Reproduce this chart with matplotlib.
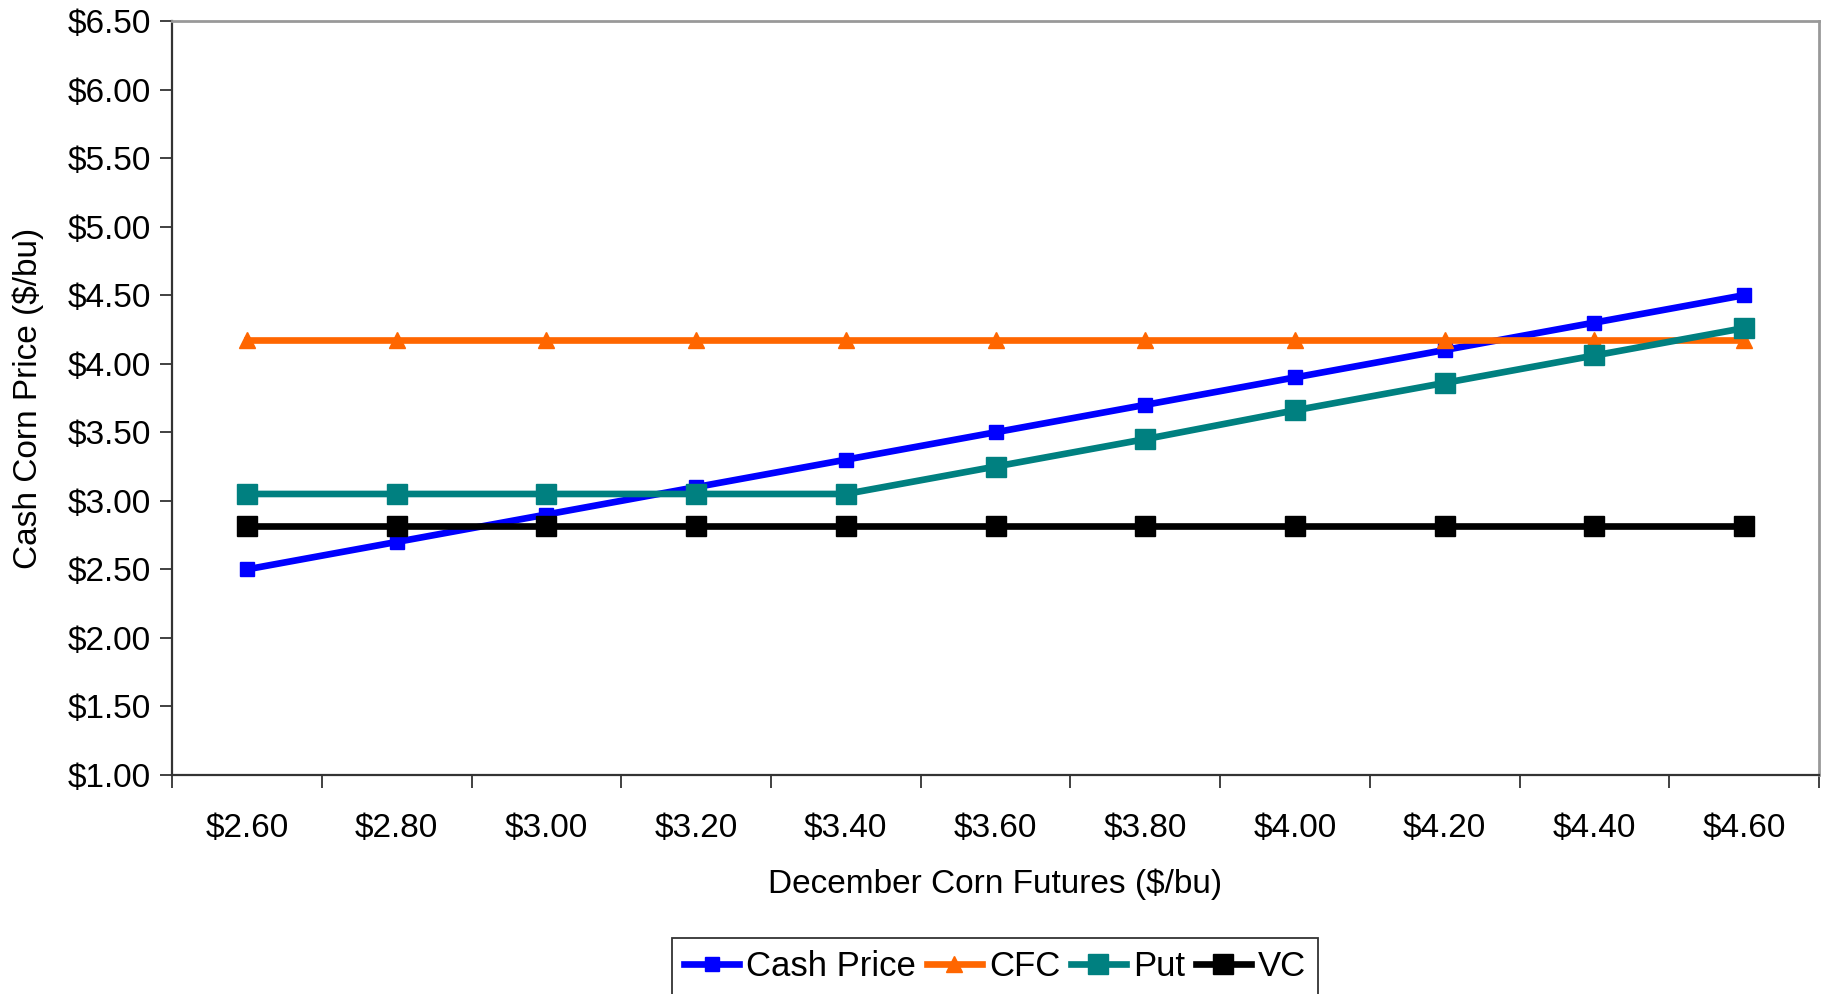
import numpy as np
import matplotlib.pyplot as plt

# categories (December futures) and series values, $/bu
futures = ["$2.60", "$2.80", "$3.00", "$3.20", "$3.40", "$3.60",
           "$3.80", "$4.00", "$4.20", "$4.40", "$4.60"]
cash_price = [2.50, 2.70, 2.90, 3.10, 3.30, 3.50, 3.70, 3.90, 4.10, 4.30, 4.50]
cfc = [4.17] * 11
put = [3.05, 3.05, 3.05, 3.05, 3.05, 3.25, 3.45, 3.66, 3.86, 4.06, 4.26]
vc = [2.82] * 11
y_ticks = [1.0, 1.5, 2.0, 2.5, 3.0, 3.5, 4.0, 4.5, 5.0, 5.5, 6.0, 6.5]

plt.rcParams["font.family"] = ["Liberation Sans", "DejaVu Sans"]

fig = plt.figure(figsize=(18.21, 9.94), dpi=100)
ax = fig.add_axes([0.0945, 0.2203, 0.9044, 0.7586])

x = np.arange(len(futures))
ax.plot(x, cash_price, color="#0000FF", lw=4.8, marker="s", ms=9.5, label="Cash Price")
ax.plot(x, cfc, color="#FF6600", lw=4.8, marker="^", ms=11, label="CFC")
ax.plot(x, put, color="#008080", lw=4.8, marker="s", ms=15, label="Put")
ax.plot(x, vc, color="#000000", lw=4.8, marker="s", ms=15, label="VC")

ax.set_xlim(-0.5, len(futures) - 0.5)
ax.set_ylim(1.0, 6.5)
ax.set_yticks(y_ticks)
ax.set_yticklabels([f"${v:.2f}" for v in y_ticks])
ax.set_xticks(x)
ax.set_xticklabels(futures)
ax.set_xticks(np.arange(-0.5, len(futures)), minor=True)
ax.tick_params(axis="x", which="major", length=0, labelsize=24, pad=27)
ax.tick_params(axis="x", which="minor", length=9, width=1.3, color="#333333")
ax.tick_params(axis="y", length=9, width=1.3, color="#333333", labelsize=24, pad=6)

for side in ["left", "bottom"]:
    ax.spines[side].set_color("#333333")
    ax.spines[side].set_linewidth(1.6)
for side in ["top", "right"]:
    ax.spines[side].set_color("#999999")
    ax.spines[side].set_linewidth(2)

ax.set_xlabel("December Corn Futures ($/bu)", fontsize=24, labelpad=18)
ax.set_ylabel("Cash Corn Price ($/bu)", fontsize=24)
ax.yaxis.set_label_coords(-0.078, 0.5)

leg = ax.legend(loc="upper center", bbox_to_anchor=(0.5464, 0.0563),
                bbox_transform=fig.transFigure, ncol=4, fontsize=25,
                frameon=True, fancybox=False, handlelength=1.6,
                handletextpad=0.2, columnspacing=0.3, borderpad=0.35,
                borderaxespad=0)
leg.get_frame().set_edgecolor("#000000")
leg.get_frame().set_linewidth(1.3)

fig.savefig("out.png", dpi=100)
